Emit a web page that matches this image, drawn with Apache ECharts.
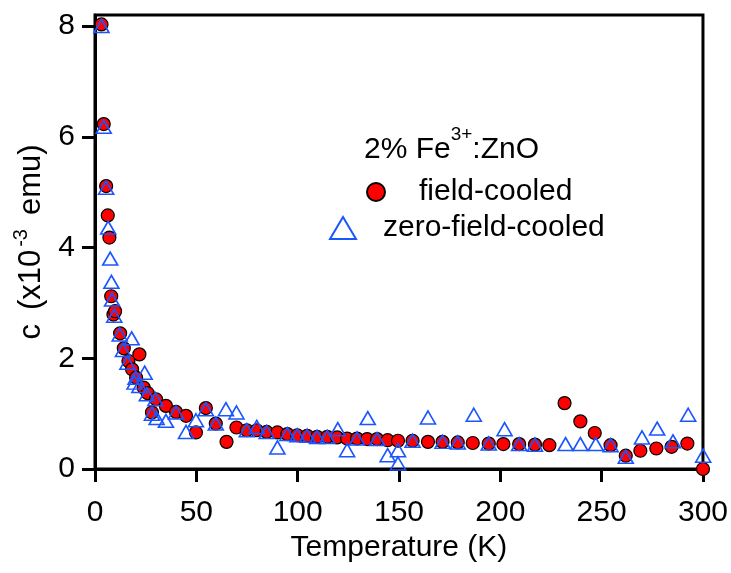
<!DOCTYPE html>
<html>
<head>
<meta charset="utf-8">
<script src="https://cdn.jsdelivr.net/npm/echarts@6/dist/echarts.min.js"></script>
<style>
  html, body { margin: 0; padding: 0; background: #fff; }
  #chart { width: 731px; height: 573px; }
</style>
</head>
<body>
<div id="chart"></div>
<script>
// field-cooled (red circles)
var fcTemp = [3.2, 4.3, 5.5, 6.3, 7.1, 8.0, 9.1, 9.9, 12.4, 14.2, 16.5, 18.3, 20.3, 21.9, 24.0, 26.0, 28.1, 30.1, 35.0, 40.0,
    44.9, 49.8, 54.7, 59.6, 64.9, 69.8, 74.9, 79.8, 84.7, 90.0, 94.9, 99.8, 104.7, 109.6, 114.6, 119.5, 124.4, 129.3, 134.3, 139.2,
    144.4, 149.5, 156.7, 164.3, 171.5, 179.0, 186.4, 194.3, 201.5, 209.3, 217.1, 224.2, 231.7, 239.5, 246.6, 254.4, 261.9, 269.1, 277.0, 284.5,
    292.3, 300.0];
var fcChi = [8.03, 6.23, 5.11, 4.58, 4.18, 3.12, 2.79, 2.85, 2.45, 2.18, 1.95, 1.80, 1.65, 2.07, 1.47, 1.37, 1.02, 1.26, 1.14, 1.03,
    0.96, 0.66, 1.10, 0.82, 0.49, 0.75, 0.70, 0.70, 0.67, 0.66, 0.63, 0.61, 0.60, 0.58, 0.58, 0.57, 0.55, 0.55, 0.54, 0.54,
    0.52, 0.51, 0.51, 0.49, 0.49, 0.48, 0.47, 0.46, 0.45, 0.45, 0.44, 0.43, 1.19, 0.86, 0.65, 0.43, 0.24, 0.33, 0.37, 0.40,
    0.46, 0.0];

// zero-field-cooled (blue open triangles)
var zfcTemp = [3.2, 4.3, 5.5, 6.5, 7.5, 8.1, 8.4, 9.5, 12.2, 13.8, 16.0, 18.1, 19.5, 20.0, 21.9, 24.5, 25.6, 28.1, 29.8, 30.4,
    35.0, 40.0, 44.9, 49.8, 54.7, 59.6, 64.6, 69.8, 74.9, 79.8, 84.7, 90.0, 94.9, 99.8, 104.7, 109.6, 114.6, 119.8, 124.4, 129.3,
    134.6, 139.2, 144.4, 149.5, 149.5, 156.7, 164.3, 171.5, 179.0, 186.9, 194.3, 202.1, 209.3, 217.1, 232.2, 239.5, 247.1, 254.4, 261.9, 269.9,
    277.4, 285.2, 292.7, 300.1];
var zfcChi = [8.00, 6.18, 5.08, 4.36, 3.80, 3.38, 3.06, 2.77, 2.43, 2.15, 1.92, 2.36, 1.56, 1.65, 1.50, 1.74, 1.35, 1.00, 1.26, 0.92,
    0.87, 1.02, 0.67, 0.88, 1.08, 0.82, 1.08, 1.02, 0.70, 0.76, 0.67, 0.39, 0.63, 0.61, 0.60, 0.58, 0.58, 0.72, 0.34, 0.55,
    0.92, 0.54, 0.25, 0.34, 0.10, 0.51, 0.93, 0.49, 0.48, 0.98, 0.46, 0.72, 0.45, 0.44, 0.45, 0.45, 0.45, 0.43, 0.22, 0.57,
    0.73, 0.50, 0.98, 0.24];

var yTicks = [0, 2, 4, 6, 8];

function pairs(xs, ys) {
    var out = [];
    for (var i = 0; i < xs.length; i++) {
        out.push([xs[i], ys[i]]);
    }
    return out;
}

var font = 'Liberation Sans, Arial, sans-serif';
var chart = echarts.init(document.getElementById('chart'), null, { renderer: 'canvas' });

var option = {
    animation: false,
    backgroundColor: '#fff',
    title: {
        left: 364,
        top: 125,
        padding: 0,
        text: '{n|2% Fe}{sup|3+}{n|:ZnO}',
        textStyle: {
            rich: {
                n: { fontFamily: font, fontSize: 30, fontWeight: 'normal', color: '#000', lineHeight: 40, verticalAlign: 'bottom' },
                sup: { fontFamily: font, fontSize: 19, fontWeight: 'normal', color: '#000', lineHeight: 40, verticalAlign: 'top' }
            }
        }
    },
    legend: [
        {
            data: ['field-cooled'],
            left: 366,
            top: 177,
            padding: 0,
            itemWidth: 18,
            itemHeight: 18,
            icon: 'circle',
            textStyle: { fontFamily: font, fontSize: 30, color: '#000', padding: [0, 0, 0, 29] },
            selectedMode: false
        },
        {
            data: ['zero-field-cooled'],
            left: 329,
            top: 213,
            padding: 0,
            itemWidth: 26,
            itemHeight: 22,
            icon: 'triangle',
            textStyle: { fontFamily: font, fontSize: 30, color: '#000', padding: [0, 0, 0, 22] },
            selectedMode: false
        }
    ],
    grid: {
        left: 95,
        right: 26,
        top: 15,
        bottom: 104,
        show: true,
        borderColor: '#000',
        borderWidth: 3
    },
    xAxis: {
        type: 'value',
        min: 0,
        max: 300,
        interval: 50,
        name: 'Temperature (K)',
        nameLocation: 'middle',
        nameGap: 54,
        nameTextStyle: { fontFamily: font, fontSize: 30, color: '#000' },
        axisLine: { show: true, onZero: false, lineStyle: { color: '#000', width: 3 } },
        axisTick: { show: true, inside: false, length: 13, lineStyle: { color: '#000', width: 3 } },
        axisLabel: { fontFamily: font, fontSize: 30, color: '#000', margin: 29 },
        splitLine: { show: false }
    },
    yAxis: {
        type: 'value',
        min: 0,
        max: 8.2,
        name: '{c|c}{n|(x10}{sup|-3}{n|emu)}',
        nameLocation: 'middle',
        nameRotate: 90,
        nameGap: 40,
        nameTextStyle: {
            rich: {
                c: { fontFamily: font, fontSize: 31, color: '#000', lineHeight: 36, verticalAlign: 'bottom', padding: [0, 14, 0, 0] },
                n: { fontFamily: font, fontSize: 31, color: '#000', lineHeight: 36, verticalAlign: 'bottom' },
                sup: { fontFamily: font, fontSize: 20, color: '#000', lineHeight: 36, verticalAlign: 'top', padding: [0, 14, 0, 3] }
            }
        },
        axisLine: { show: true, lineStyle: { color: '#000', width: 3 } },
        axisTick: { show: true, inside: false, length: 13, customValues: yTicks, lineStyle: { color: '#000', width: 3 } },
        axisLabel: { fontFamily: font, fontSize: 30, color: '#000', margin: 20, customValues: yTicks },
        splitLine: { show: false }
    },
    series: [
        {
            name: 'field-cooled',
            type: 'scatter',
            symbol: 'circle',
            symbolSize: 13,
            clip: false,
            itemStyle: { color: '#ff0000', borderColor: '#000', borderWidth: 1.2, opacity: 1 },
            data: pairs(fcTemp, fcChi)
        },
        {
            name: 'zero-field-cooled',
            type: 'scatter',
            symbol: 'triangle',
            symbolSize: [15, 13],
            clip: false,
            itemStyle: { color: 'rgba(0,0,0,0)', borderColor: '#1a56ff', borderWidth: 1.6, opacity: 1 },
            data: pairs(zfcTemp, zfcChi)
        }
    ]
};

chart.setOption(option);
</script>
</body>
</html>
